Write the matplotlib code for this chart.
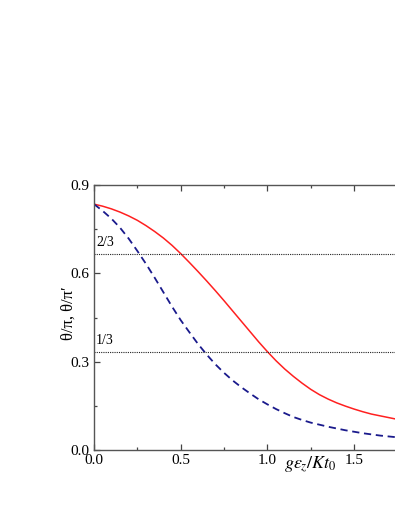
import matplotlib
matplotlib.use("Agg")
import matplotlib.pyplot as plt
from matplotlib.ticker import MultipleLocator

# Data
x_red = [0.0, 0.05, 0.1, 0.15, 0.2, 0.25, 0.3, 0.35, 0.4, 0.45, 0.5, 0.55, 0.6,
         0.65, 0.7, 0.75, 0.8, 0.85, 0.9, 0.95, 1.0, 1.05, 1.1, 1.15, 1.2, 1.25,
         1.3, 1.35, 1.4, 1.45, 1.5, 1.55, 1.6, 1.65, 1.7, 1.75, 1.8, 1.85, 1.9,
         1.95, 2.0]
y_red = [0.835, 0.828, 0.819, 0.808, 0.795, 0.780, 0.762, 0.742, 0.720, 0.695,
         0.667, 0.637, 0.606, 0.574, 0.541, 0.507, 0.472, 0.437, 0.402, 0.367,
         0.334, 0.303, 0.275, 0.250, 0.227, 0.206, 0.188, 0.173, 0.160, 0.149,
         0.139, 0.130, 0.122, 0.116, 0.110, 0.104, 0.099, 0.094, 0.089, 0.085,
         0.081]

x_blue = [0.0, 0.05, 0.1, 0.15, 0.2, 0.25, 0.3, 0.35, 0.4, 0.45, 0.5, 0.55, 0.6,
          0.65, 0.7, 0.75, 0.8, 0.85, 0.9, 0.95, 1.0, 1.05, 1.1, 1.15, 1.2,
          1.25, 1.3, 1.35, 1.4, 1.45, 1.5, 1.55, 1.6, 1.65, 1.7, 1.75, 1.8,
          1.9, 2.0]
y_blue = [0.835, 0.812, 0.786, 0.755, 0.718, 0.676, 0.632, 0.585, 0.536, 0.487,
          0.441, 0.400, 0.360, 0.324, 0.291, 0.262, 0.236, 0.213, 0.192, 0.172,
          0.155, 0.139, 0.125, 0.112, 0.102, 0.093, 0.086, 0.079, 0.073, 0.067,
          0.062, 0.057, 0.053, 0.049, 0.046, 0.043, 0.040, 0.035, 0.031]

h_levels = [2/3, 1/3]
h_labels = ["2/3", "1/3"]
x_ticks = [0.0, 0.5, 1.0, 1.5, 2.0]
x_ticklabels = ["0.0", "0.5", "1.0", "1.5", ""]
y_ticks = [0.0, 0.3, 0.6, 0.9]
y_ticklabels = ["0.0", "0.3", "0.6", "0.9"]

plt.rcParams['font.family'] = ['Liberation Serif', 'DejaVu Serif']
plt.rcParams['mathtext.fontset'] = 'stix'

W, H = 395, 511
fig = plt.figure(figsize=(W / 100, H / 100), dpi=100)
ax = fig.add_axes([94 / W, 61 / H, 346.8 / W, 265 / H])

ax.plot(x_red, y_red, color='#ff2020', lw=1.1)
ax.plot(x_blue, y_blue, color='#1a1a8c', lw=1.3, dashes=(4.0, 2.6))
for lv, lb in zip(h_levels, h_labels):
    ax.axhline(lv, color='#222222', lw=0.8, ls=(0, (1, 1)))
    ax.text(0.012, lv + 0.016, lb, fontsize=10, ha='left', va='bottom')

ax.set_xlim(0, 2.0)
ax.set_ylim(0, 0.9)
ax.set_xticks(x_ticks)
ax.set_yticks(y_ticks)
ax.set_xticklabels(x_ticklabels)
ax.set_yticklabels(y_ticklabels)
ax.xaxis.set_minor_locator(MultipleLocator(0.25))
ax.yaxis.set_minor_locator(MultipleLocator(0.15))
ax.tick_params(which='both', direction='in', top=True, right=True,
               color='#444444', labelsize=11, width=0.9)
ax.tick_params(which='major', length=4, pad=3)
ax.tick_params(which='minor', length=2.5)
for s in ax.spines.values():
    s.set_color('#555555')
    s.set_linewidth(1.0)

ax.set_ylabel("θ/π, θ/π′", fontsize=12)
ax.yaxis.set_label_coords(-0.05, 0.517)
ax.text(0.625, -0.018, r"$g\epsilon_z/Kt_0$", transform=ax.transAxes,
        fontsize=13, ha='center', va='top')

fig.savefig("out.png", dpi=100)
